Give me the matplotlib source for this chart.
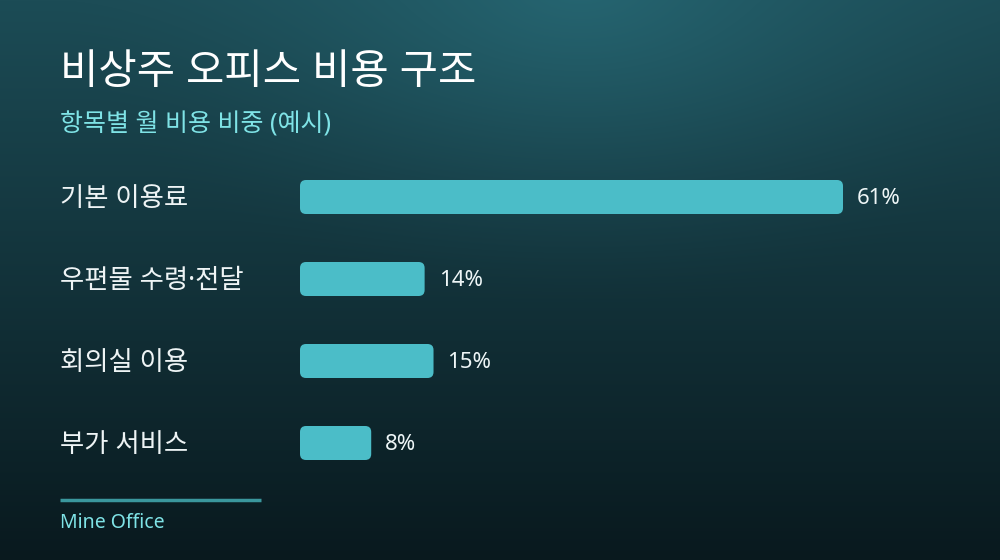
import numpy as np
import matplotlib
matplotlib.use("Agg")
import matplotlib.pyplot as plt
from matplotlib.patches import FancyBboxPatch
from matplotlib.transforms import blended_transform_factory, offset_copy

plt.rcParams['font.family'] = ['Noto Sans', 'Noto Sans CJK KR', 'DejaVu Sans']

categories = ["기본 이용료", "우편물 수령·전달", "회의실 이용", "부가 서비스"]
values = [61, 14, 15, 8]
value_labels = ["61%", "14%", "15%", "8%"]
title = "비상주 오피스 비용 구조"
subtitle = "항목별 월 비용 비중 (예시)"
footer = "Mine Office"

W, H = 1000, 560
fig = plt.figure(figsize=(W / 100, H / 100), dpi=100)

# background gradient
bg = fig.add_axes([0, 0, 1, 1])
yy, xx = np.mgrid[0:H, 0:W]
t = yy / H
top = np.array([0x1c, 0x4c, 0x56]) / 255
bot = np.array([0x09, 0x19, 0x1e]) / 255
img = top[None, None, :] * (1 - t[..., None]) + bot[None, None, :] * t[..., None]
d = np.sqrt(((xx - 580) / 520) ** 2 + ((yy + 20) / 330) ** 2)
glow = np.clip(1 - d, 0, 1) ** 1.6
hl = np.array([0x26, 0x66, 0x72]) / 255
img = img * (1 - glow[..., None]) + hl[None, None, :] * glow[..., None]
bg.imshow(img, extent=[0, W, H, 0], aspect='auto')
bg.set_xlim(0, W)
bg.set_ylim(H, 0)
bg.axis('off')

# bar axes: x=300px -> 0, scale 543px/61
px_per = 543 / 61
ax_left, ax_right = 300, 940
ax_top, ax_bot = 156, 484
ax = fig.add_axes([ax_left / W, 1 - ax_bot / H, (ax_right - ax_left) / W, (ax_bot - ax_top) / H])
ax.set_xlim(0, (ax_right - ax_left) / px_per)
ax.set_ylim(len(categories) - 0.5, -0.5)
ax.axis('off')
ax.patch.set_alpha(0)

ypos = np.arange(len(categories))
bar_h = 34 / 82
bars = ax.barh(ypos, values, height=bar_h, color='none', edgecolor='none')
# rounded bars
x_per_px = 1 / px_per
y_per_px = 1 / 82
for b in bars:
    x0, y0 = b.get_x(), b.get_y()
    w, h = b.get_width(), b.get_height()
    r = 6 * x_per_px
    p = FancyBboxPatch((x0, y0), w, h,
                       boxstyle=f"round,pad=0,rounding_size={r}",
                       mutation_aspect=y_per_px / x_per_px,
                       facecolor='#4bbdc8', edgecolor='none')
    ax.add_patch(p)

for y, v, lab in zip(ypos, values, value_labels):
    ax.annotate(lab, xy=(v, y), xytext=(14, -1), textcoords='offset pixels',
                ha='left', va='center', color='#eef6f7', fontsize=16)

trans = blended_transform_factory(fig.transFigure, ax.transData)
trans = offset_copy(trans, fig=fig, x=0, y=-2, units='dots')
for y, c in zip(ypos, categories):
    fig.text(60 / W, y, c, transform=trans, ha='left', va='center',
             color='#eef4f5', fontsize=19)

fig.text(60 / W, 1 - 73 / H, title, ha='left', va='center', color='white', fontsize=30)
fig.text(60 / W, 1 - 125 / H, subtitle, ha='left', va='center', color='#7fe3e6', fontsize=18)

bg.plot([60, 261], [500, 500], color='#3a979d', lw=2.5, solid_capstyle='butt')
fig.text(60 / W, 1 - 523 / H, footer, ha='left', va='center', color='#7fe3e6', fontsize=14)

fig.savefig("out.png", dpi=100)
